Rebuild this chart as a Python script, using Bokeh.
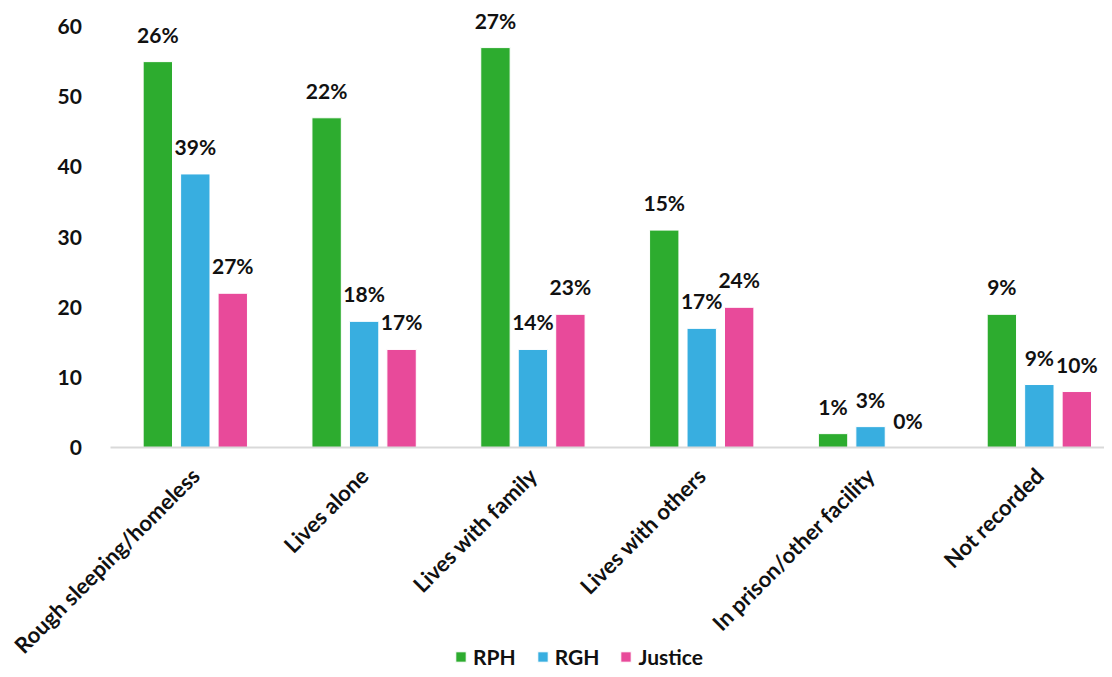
import math
from bokeh.plotting import figure
from bokeh.models import ColumnDataSource, Legend, LegendItem, FixedTicker, Range1d
from bokeh.transform import dodge
from bokeh.core.properties import value
from bokeh.embed import file_html
from bokeh.resources import INLINE

categories = ["Rough sleeping/homeless", "Lives alone", "Lives with family",
              "Lives with others", "In prison/other facility", "Not recorded"]
rph = [55, 47, 57, 31, 2, 19]
rgh = [39, 18, 14, 17, 3, 9]
justice = [22, 14, 19, 20, 0, 8]
rph_pct = ["26%", "22%", "27%", "15%", "1%", "9%"]
rgh_pct = ["39%", "18%", "14%", "17%", "3%", "9%"]
justice_pct = ["27%", "17%", "23%", "24%", "0%", "10%"]
y_ticks = [0, 10, 20, 30, 40, 50, 60]

FONT = "Lato"
colors = {"RPH": "#2DAC2F", "RGH": "#38AEE0", "Justice": "#E84A9A"}

# category slot centres (i + 0.5) on a numeric scale
xpos = [i + 0.5 for i in range(len(categories))]
n = len(categories)

src = ColumnDataSource(dict(x=xpos, cat=categories, rph=rph, rgh=rgh, justice=justice,
                            rph_pct=rph_pct, rgh_pct=rgh_pct, justice_pct=justice_pct))

# the frame covers the whole figure; both axes are pinned inside it so the
# rotated category labels and the legend fit below the bars
p = figure(x_range=Range1d(-0.654, 5.886), y_range=Range1d(-31.6, 62),
           frame_width=1104, frame_height=657,
           output_backend="svg", toolbar_location=None,
           min_border_left=0, min_border_top=12, min_border_right=0,
           min_border_bottom=0)

off = 0.222
w = 0.174
series = [("RPH", "rph", "rph_pct", -off), ("RGH", "rgh", "rgh_pct", 0.0),
          ("Justice", "justice", "justice_pct", off)]
items = []
for name, col, pcol, o in series:
    r = p.vbar(x=dodge("x", o), top=col, width=w, source=src,
               fill_color=colors[name], line_color="white", line_width=1)
    items.append(LegendItem(label=name, renderers=[r]))
    p.text(x=dodge("x", o), y=col, text=pcol, source=src,
           text_align="center", text_baseline="bottom", y_offset=-15,
           text_font=value(FONT), text_font_style="bold", text_font_size="21px",
           text_color="#111111")

p.xgrid.visible = False
p.ygrid.visible = False
p.outline_line_color = None

p.yaxis.fixed_location = 0
p.yaxis.ticker = FixedTicker(ticks=y_ticks)
p.yaxis.axis_line_color = None
p.yaxis.major_tick_line_color = None
p.yaxis.minor_tick_line_color = None
p.yaxis.major_label_standoff = 23
p.yaxis.major_label_text_font = FONT
p.yaxis.major_label_text_font_style = "bold"
p.yaxis.major_label_text_font_size = "21px"
p.yaxis.major_label_text_color = "#111111"

p.xaxis.fixed_location = 0
p.xaxis.bounds = (0, n)
p.xaxis.ticker = FixedTicker(ticks=xpos)
p.xaxis.major_label_overrides = {x: c for x, c in zip(xpos, categories)}
p.xaxis.axis_line_color = "#D9D9D9"
p.xaxis.axis_line_width = 2
p.xaxis.major_tick_line_color = None
p.xaxis.minor_tick_line_color = None
p.xaxis.major_label_orientation = math.pi / 4
p.xaxis.major_label_standoff = 18
p.xaxis.major_label_text_font = FONT
p.xaxis.major_label_text_font_style = "bold"
p.xaxis.major_label_text_font_size = "22px"
p.xaxis.major_label_text_color = "#111111"

legend = Legend(items=items, orientation="horizontal", location=(454, 0),
                label_text_font=FONT, label_text_font_style="bold",
                label_text_font_size="21px", label_text_color="#111111",
                glyph_width=13, glyph_height=13, spacing=20, label_standoff=6,
                border_line_color=None, background_fill_alpha=0, padding=0, margin=0)
p.add_layout(legend, "center")

open("out.html", "w").write(file_html(p, INLINE))
